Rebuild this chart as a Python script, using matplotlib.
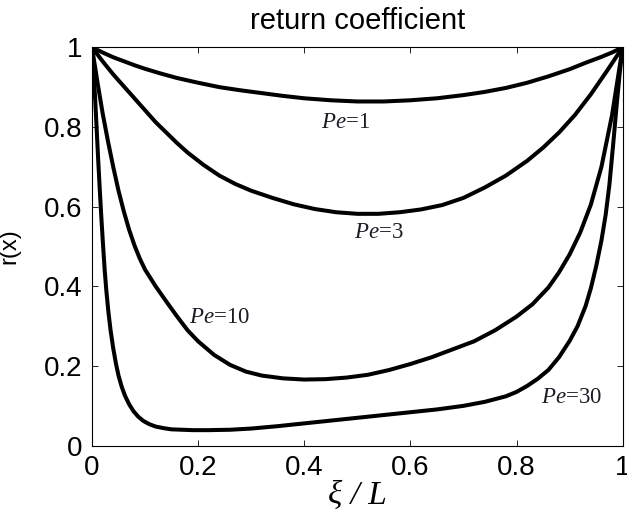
import matplotlib
matplotlib.use('Agg')
import matplotlib.pyplot as plt

# values (x = xi / L, r = return coefficient)
x_pe1 = [0.0, 0.02, 0.04, 0.06, 0.08, 0.10, 0.13, 0.16, 0.20, 0.24, 0.28, 0.32, 0.36, 0.40, 0.45,
         0.50, 0.55, 0.60, 0.65, 0.70, 0.74, 0.78, 0.82, 0.86, 0.90, 0.93, 0.96, 0.98, 1.0]
r_pe1 = [1.0, 0.987, 0.975, 0.965, 0.955, 0.946, 0.934, 0.923, 0.911, 0.900, 0.892, 0.885, 0.878, 0.872, 0.867,
         0.864, 0.864, 0.867, 0.872, 0.880, 0.888, 0.898, 0.911, 0.927, 0.945, 0.961, 0.976, 0.987, 1.0]

x_pe3 = [0.0, 0.02, 0.04, 0.06, 0.08, 0.10, 0.12, 0.14, 0.16, 0.18, 0.21, 0.24, 0.27, 0.30, 0.34, 0.38, 0.42,
         0.46, 0.50, 0.54, 0.58, 0.62, 0.66, 0.70, 0.74, 0.78, 0.82, 0.85, 0.88, 0.91, 0.94, 0.97, 1.0]
r_pe3 = [1.0, 0.965, 0.932, 0.902, 0.872, 0.842, 0.812, 0.786, 0.760, 0.736, 0.705, 0.678, 0.657, 0.640, 0.622, 0.606, 0.594,
         0.586, 0.582, 0.582, 0.586, 0.593, 0.604, 0.622, 0.648, 0.678, 0.715, 0.748, 0.786, 0.830, 0.882, 0.940, 1.0]

x_pe10 = [0.0, 0.01, 0.02, 0.03, 0.04, 0.05, 0.06, 0.07, 0.08, 0.09, 0.10, 0.12, 0.14, 0.16, 0.18, 0.20, 0.23,
          0.26, 0.29, 0.32, 0.36, 0.40, 0.44, 0.48, 0.52, 0.56, 0.60, 0.64, 0.68, 0.72, 0.76, 0.80, 0.83, 0.86,
          0.88, 0.90, 0.92, 0.94, 0.96, 0.98, 1.0]
r_pe10 = [1.0, 0.915, 0.835, 0.765, 0.700, 0.640, 0.588, 0.542, 0.503, 0.470, 0.442, 0.400, 0.362, 0.325, 0.290, 0.262, 0.228,
          0.203, 0.186, 0.176, 0.169, 0.166, 0.167, 0.171, 0.178, 0.190, 0.205, 0.222, 0.242, 0.262, 0.290, 0.324, 0.355, 0.397,
          0.435, 0.480, 0.535, 0.605, 0.700, 0.830, 1.0]

x_pe30 = [0.0, 0.003, 0.006, 0.009, 0.012, 0.015, 0.018, 0.021, 0.024, 0.027, 0.031, 0.035, 0.040, 0.045, 0.050,
          0.056, 0.062, 0.070, 0.078, 0.087, 0.097, 0.108, 0.12, 0.135, 0.15, 0.17, 0.19, 0.22, 0.26, 0.30, 0.35,
          0.40, 0.45, 0.50, 0.55, 0.60, 0.65, 0.70, 0.74, 0.78, 0.80, 0.82, 0.84, 0.86, 0.88, 0.90, 0.915, 0.93,
          0.94, 0.95, 0.96, 0.968, 0.975, 0.982, 0.988, 0.994, 1.0]
r_pe30 = [1.0, 0.94, 0.87, 0.79, 0.71, 0.635, 0.565, 0.50, 0.44, 0.39, 0.335, 0.29, 0.245, 0.207, 0.176,
          0.148, 0.126, 0.104, 0.087, 0.073, 0.062, 0.054, 0.048, 0.044, 0.041, 0.040, 0.039, 0.039, 0.040, 0.043, 0.049,
          0.056, 0.063, 0.070, 0.077, 0.084, 0.091, 0.100, 0.110, 0.124, 0.135, 0.150, 0.168, 0.190, 0.222, 0.263, 0.300, 0.350,
          0.395, 0.450, 0.515, 0.580, 0.655, 0.755, 0.845, 0.930, 1.0]

labels = ['1', '3', '10', '30']
label_x = [0.477, 0.541, 0.241, 0.903]
label_y = [0.812, 0.534, 0.323, 0.122]

plt.rcParams['mathtext.fontset'] = 'custom'
plt.rcParams['mathtext.it'] = 'Liberation Serif:italic'
plt.rcParams['mathtext.rm'] = 'Liberation Serif'
plt.rcParams['font.family'] = 'Liberation Sans'

fig = plt.figure(figsize=(6.27, 5.18), dpi=100)
ax = fig.add_axes([0.1467, 0.1396, 0.8464, 0.7691])

for xs, rs in [(x_pe1, r_pe1), (x_pe3, r_pe3), (x_pe10, r_pe10), (x_pe30, r_pe30)]:
    ax.plot(xs, rs, color='black', linewidth=2.9, solid_capstyle='round', solid_joinstyle='round')

for lab, lx, ly in zip(labels, label_x, label_y):
    ax.text(lx, ly, '$Pe$=' + lab, fontsize=16.5, family='Liberation Serif',
            color='#1c1c28', ha='center', va='center')

ax.set_xlim(0, 1)
ax.set_ylim(0, 1)
ax.set_xticks([0, 0.2, 0.4, 0.6, 0.8, 1])
ax.set_xticklabels(['0', '0.2', '0.4', '0.6', '0.8', '1'])
ax.set_yticks([0, 0.2, 0.4, 0.6, 0.8, 1])
ax.set_yticklabels(['0', '0.2', '0.4', '0.6', '0.8', '1'])
ax.tick_params(direction='in', top=True, right=True, length=4, width=0.6, labelsize=20)
ax.tick_params(axis='x', pad=7)
ax.tick_params(axis='y', pad=7)
for s in ax.spines.values():
    s.set_linewidth(0.8)

ax.set_title('return coefficient', fontsize=21, pad=13)
ax.set_ylabel('r(x)', fontsize=17)
ax.yaxis.set_label_coords(-0.134, 0.5)
ax.set_xlabel('ξ / L', fontsize=24, family='Liberation Serif', style='italic')
ax.xaxis.set_label_coords(0.5, -0.088)

fig.savefig('out.png', dpi=100)
